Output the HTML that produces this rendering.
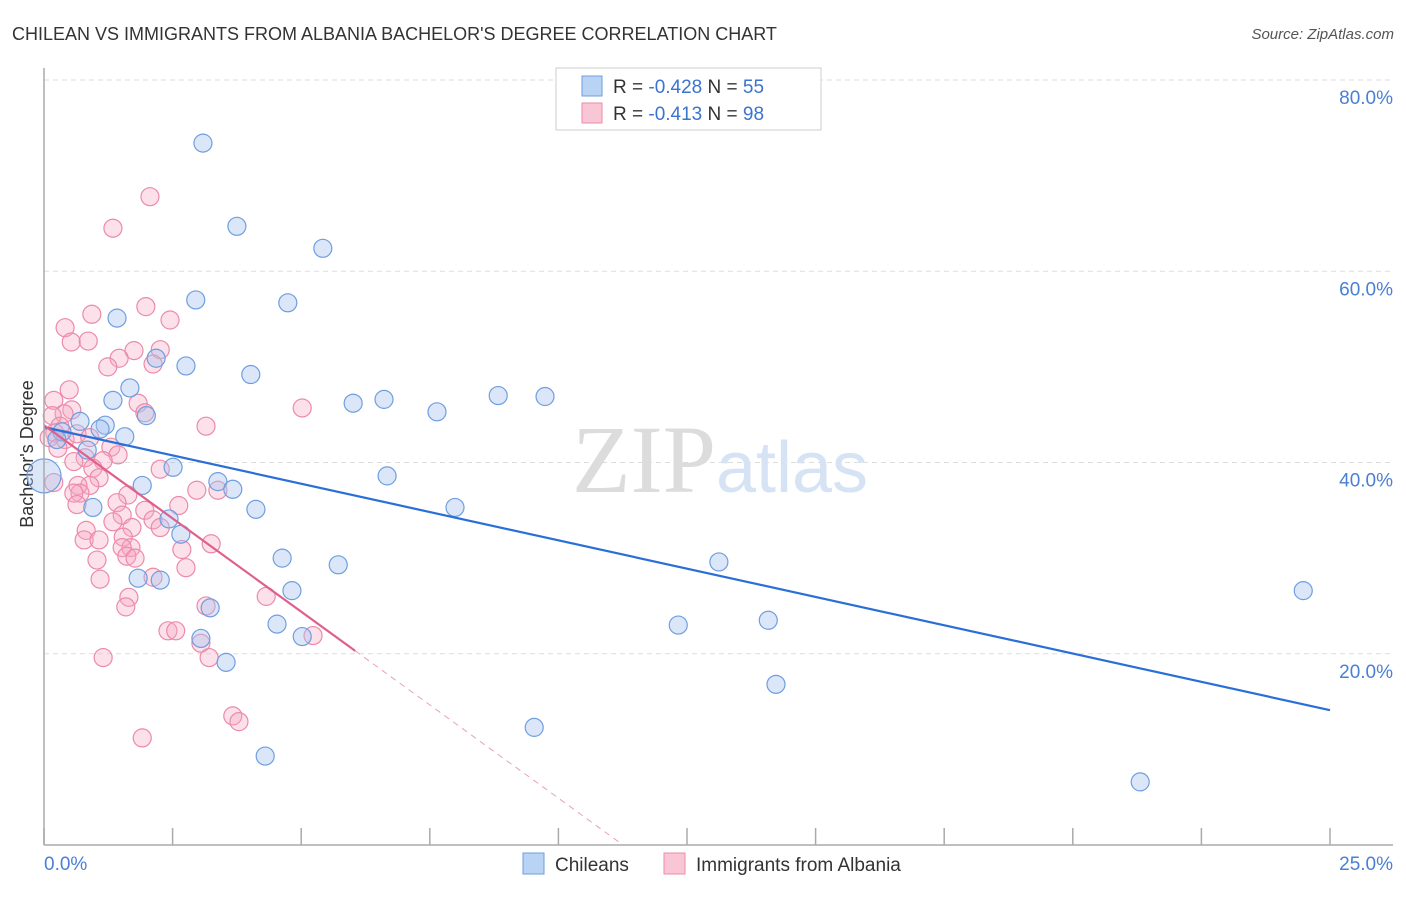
<!DOCTYPE html>
<html><head><meta charset="utf-8"><style>
body{margin:0;background:#fff;font-family:"Liberation Sans",sans-serif;}
svg text{font-family:"Liberation Sans",sans-serif;}
</style></head><body>
<svg id="c" width="1406" height="892" xmlns="http://www.w3.org/2000/svg">
<text x="12" y="40" font-size="18" fill="#333">CHILEAN VS IMMIGRANTS FROM ALBANIA BACHELOR'S DEGREE CORRELATION CHART</text>
<text x="1394" y="39" font-size="15" fill="#555" font-style="italic" text-anchor="end">Source: ZipAtlas.com</text>
<text x="36" y="457" font-size="18" fill="#333" text-anchor="middle" transform="rotate(-90 33 457)">Bachelor's Degree</text>
<g id="grid"></g>
<text x="720" y="492" font-size="96" fill="#e6e6e6" text-anchor="middle" font-family="Liberation Serif"><tspan fill="#dcdcdc" font-family="Liberation Serif">ZIP</tspan><tspan fill="#d6e3f5" font-size="72" font-family="Liberation Sans">atlas</tspan></text>
<g id="pts"></g>
<g id="lines"></g>
<g id="axes"></g>
<g>
<rect x="556" y="68" width="265" height="62" fill="#fff" stroke="#ccc"/>
<rect x="582" y="76" width="20" height="20" fill="#b9d3f5" stroke="#6f9ee0"/>
<text x="613" y="93" font-size="19" fill="#333">R = <tspan fill="#3a73d0">-0.428</tspan>   N = <tspan fill="#3a73d0">55</tspan></text>
<rect x="582" y="103" width="20" height="20" fill="#f9c6d6" stroke="#ec8aaa"/>
<text x="613" y="120" font-size="19" fill="#333">R =  <tspan fill="#3a73d0">-0.413</tspan>   N = <tspan fill="#3a73d0">98</tspan></text>
</g>
<g>
<rect x="523" y="853" width="21" height="21" fill="#b9d3f5" stroke="#6f9ee0"/>
<text x="555" y="871" font-size="19" fill="#333">Chileans</text>
<rect x="664" y="853" width="21" height="21" fill="#f9c6d6" stroke="#ec8aaa"/>
<text x="696" y="871" font-size="19" fill="#333">Immigrants from Albania</text>
</g>
</svg>
<script>
const yTicks=[20,40,60,80];
const yTickLabels=["20.0%","40.0%","60.0%","80.0%"];
const xTickLabels=["0.0%","25.0%"];
const blueX=[3.09,3.75,5.42,2.95,4.74,1.42,2.18,2.76,4.02,1.67,1.34,1.99,6.01,6.61,7.64,8.83,9.74,0.70,1.19,1.09,1.57,0.35,0.25,0.84,2.51,3.38,3.67,1.91,6.67,0.95,4.12,7.99,2.43,2.66,4.63,5.72,13.12,1.83,2.26,4.82,24.48,3.23,4.53,12.33,14.08,3.05,5.02,3.54,14.23,9.53,4.30,21.31,0.0];
const blueY=[73.4,64.7,62.4,57.0,56.7,55.1,50.9,50.1,49.2,47.8,46.5,44.9,46.2,46.6,45.3,47.0,46.9,44.3,43.9,43.5,42.7,43.2,42.4,41.3,39.5,38.0,37.2,37.6,38.6,35.3,35.1,35.3,34.1,32.5,30.0,29.3,29.6,27.9,27.7,26.6,26.6,24.8,23.1,23.0,23.5,21.6,21.8,19.1,16.8,12.3,9.3,6.6,38.6];
const pinkX=[2.06,1.34,0.93,1.98,2.45,0.41,0.53,0.86,2.26,1.75,1.46,1.24,2.12,0.49,0.19,1.83,5.02,1.96,0.54,0.39,0.16,0.31,3.15,0.21,0.10,0.41,0.64,0.89,0.27,1.30,1.44,0.80,1.15,0.58,0.95,2.26,1.07,0.19,0.89,0.66,0.70,0.58,3.38,1.63,2.97,1.42,0.64,2.62,1.96,1.52,2.12,1.34,1.71,2.26,0.82,1.54,0.78,1.07,3.25,1.69,1.52,2.68,1.03,1.61,1.77,2.76,1.09,2.12,1.65,1.59,4.32,3.15,2.41,2.56,3.05,5.23,3.21,1.15,3.67,3.79,1.91];
const pinkY=[67.8,64.5,55.5,56.3,54.9,54.1,52.6,52.7,51.8,51.7,50.9,50.0,50.3,47.6,46.5,46.2,45.7,45.2,45.5,45.1,44.9,43.8,43.8,43.1,42.6,42.4,43.0,42.6,41.5,41.6,40.8,40.5,40.2,40.1,39.4,39.3,38.4,37.9,37.6,37.6,36.8,36.8,37.1,36.6,37.1,35.8,35.6,35.5,35.0,34.5,34.0,33.8,33.2,33.2,32.9,32.2,31.9,31.9,31.5,31.1,31.1,30.9,29.8,30.2,30.0,29.0,27.8,28.0,25.9,24.9,26.0,25.0,22.4,22.4,21.1,21.9,19.6,19.6,13.5,12.9,11.2];
const blueTrend=[43.7,14.1];      // y at x=0 and x=25
const pinkTrend=[43.9,-3.9];      // intercept, slope
const pinkSolidEnd=6.05;
const NS="http://www.w3.org/2000/svg";
const X=v=>44+v/25*1286;
const Y=v=>845-v*9.5625;
function mk(tag,attrs,parent){const e=document.createElementNS(NS,tag);for(const k in attrs)e.setAttribute(k,attrs[k]);parent.appendChild(e);return e;}
const grid=document.getElementById('grid'),pts=document.getElementById('pts'),lines=document.getElementById('lines'),axes=document.getElementById('axes'),svg=document.getElementById('c');
yTicks.forEach((t,i)=>{
 const l=mk('line',{x1:44,x2:1393,y1:Y(t),y2:Y(t),stroke:'#ddd','stroke-dasharray':'5,4'},grid);
 
 
 const tx=mk('text',{x:1393,y:Y(t)+24,'font-size':19,fill:'#4a7fd4','text-anchor':'end'},svg);
 tx.textContent=yTickLabels[i];
 
 
});
const ax=mk('line',{x1:44,x2:44,y1:68,y2:845,stroke:'#aaa','stroke-width':1.5},axes);


const bx=mk('line',{x1:44,x2:1393,y1:845,y2:845,stroke:'#aaa','stroke-width':1.5},axes);


for(let i=0;i<=10;i++){
 const t=mk('line',{x1:X(i*2.5),x2:X(i*2.5),y1:828,y2:845,stroke:'#aaa','stroke-width':1.5},axes);
 
 
}
[[0,'start',44],[25,'end',1393]].forEach((d,i)=>{
 const tx=mk('text',{x:d[2],y:870,'font-size':19,fill:'#4a7fd4','text-anchor':d[1]},svg);
 tx.textContent=xTickLabels[i];
 
 
});
pinkX.forEach((x,i)=>{
 const c=mk('circle',{cx:X(x),cy:Y(pinkY[i]),r:9,fill:'rgba(246,170,195,0.35)',stroke:'#ec8aaa','stroke-width':1.2},pts);
 
 
});
blueX.forEach((x,i)=>{
 const big=i===blueX.length-1;
 const c=mk('circle',{cx:X(x),cy:Y(blueY[i]),r:big?17:9,fill:'rgba(164,196,240,0.4)',stroke:'#6f9ee0','stroke-width':1.2},pts);
 
 
});
const bl=mk('line',{x1:X(0),y1:Y(blueTrend[0]),x2:X(25),y2:Y(blueTrend[1]),stroke:'#2a6fd6','stroke-width':2.2},lines);


const pe=-pinkTrend[0]/pinkTrend[1];
const pl=mk('line',{x1:X(0),y1:Y(pinkTrend[0]),x2:X(pinkSolidEnd),y2:Y(pinkTrend[0]+pinkTrend[1]*pinkSolidEnd),stroke:'#e0608c','stroke-width':2.2},lines);


const pd=mk('line',{x1:X(pinkSolidEnd),y1:Y(pinkTrend[0]+pinkTrend[1]*pinkSolidEnd),x2:X(pe),y2:Y(0),stroke:'#e8a0b8','stroke-width':1,'stroke-dasharray':'6,5'},lines);


</script>
</body></html>
